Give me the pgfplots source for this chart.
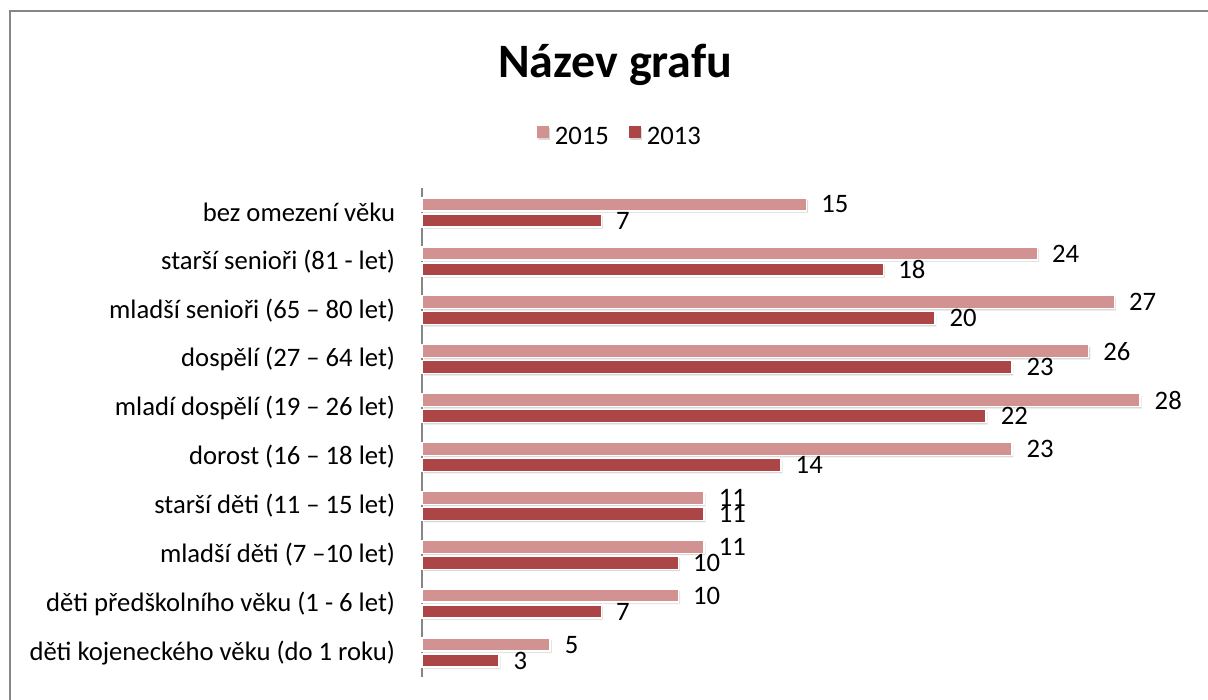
\documentclass[border=0pt]{standalone}
\usepackage{pgfplots}
\pgfplotsset{compat=1.18}
\usepackage{fontspec}
\setmainfont{Carlito}
\usetikzlibrary{shadows}
\definecolor{c15}{RGB}{211,146,146}
\definecolor{c13}{RGB}{172,70,70}
\definecolor{framec}{RGB}{134,134,134}
\begin{document}
\begin{tikzpicture}[x=0.75pt,y=0.75pt]
\useasboundingbox (0,0) rectangle (1208,700);
\draw[framec, line width=1.5pt] (9.5,0) -- (9.5,688.5) -- (1208,688.5);
\begin{axis}[
  at={(316.5pt,17.25pt)}, anchor=south west,
  scale only axis, width=538.5pt, height=366.75pt,
  xbar, bar width=9.75pt,
  xmin=0, xmax=28, ymin=-0.5, ymax=9.5,
  axis x line=none, axis y line*=left,
  axis line style={-, framec, line width=1.5pt},
  ytick={0,...,9},
  yticklabels={děti kojeneckého věku (do 1 roku), děti předškolního věku (1 - 6 let), mladší děti (7 –10 let), starší děti (11 – 15 let), dorost (16 – 18 let), mladí dospělí (19 – 26 let), dospělí (27 – 64 let), mladší senioři (65 – 80 let), starší senioři (81 - let), bez omezení věku},
  major tick length=0pt,
  yticklabel style={anchor=east, inner sep=0pt, xshift=-20pt, font=\fontsize{20}{24}\selectfont},
  clip=false,
  nodes near coords,
  /pgf/number format/assume math mode=true,
  nodes near coords style={anchor=west, inner sep=0pt, xshift=10.5pt, font=\fontsize{20}{24}\selectfont, text=black},
  every axis plot/.append style={draw=white, line width=1.1pt, drop shadow={shadow xshift=1.2pt, shadow yshift=-1.5pt, opacity=0.3}},
  title={Název grafu},
  title style={at={(0.269,1.236)}, anchor=center, font=\fontsize{36}{40}\selectfont\bfseries},
  legend style={at={(0.276,1.104)}, anchor=center, draw=none, legend columns=2, font=\fontsize{20}{24}\selectfont,
    /tikz/every odd column/.append style={column sep=2.5pt},
    /tikz/every even column/.append style={column sep=13pt}},
  legend image code/.code={\fill[#1, draw=none] (0pt,-1pt) rectangle (9pt,8pt);},
]
\addplot[fill=c15, bar shift=6pt] coordinates {(5,0) (10,1) (11,2) (11,3) (23,4) (28,5) (26,6) (27,7) (24,8) (15,9)};
\addlegendentry{2015}
\addplot[fill=c13, bar shift=-6pt] coordinates {(3,0) (7,1) (10,2) (11,3) (14,4) (22,5) (23,6) (20,7) (18,8) (7,9)};
\addlegendentry{2013}
\end{axis}
\end{tikzpicture}
\end{document}
